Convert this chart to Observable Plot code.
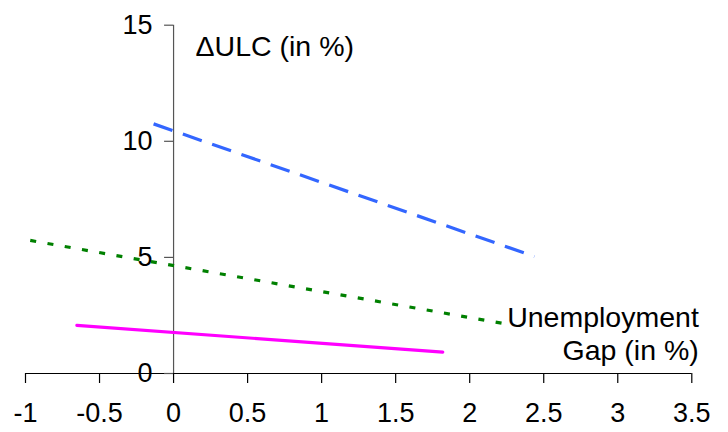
<!DOCTYPE html>
<html>
<head>
<meta charset="utf-8">
<script src="https://cdn.jsdelivr.net/npm/d3@7"></script>
<script src="https://cdn.jsdelivr.net/npm/@observablehq/plot@0.6"></script>
<style>
  html, body { margin: 0; padding: 0; background: #fff; }
</style>
</head>
<body>
<div id="chart"></div>
<script>
// Data
const xTicks = [-1, -0.5, 0, 0.5, 1, 1.5, 2, 2.5, 3, 3.5];
const yTicks = [0, 5, 10, 15];
const blueX = [-0.135, 2.437];
const blueY = [10.75, 5.04];
const greenX = [-0.968, 2.241];
const greenY = [5.73, 2.14];
const magentaX = [-0.653, 1.818];
const magentaY = [2.07, 0.92];
const yLabel = "ΔULC (in %)";
const xLabel = "Unemployment\nGap (in %)";

const toRows = (xs, ys) => xs.map((x, i) => ({x, y: ys[i]}));

const W = 728, H = 432;
const mL = 25, mR = 36.7, mT = 24.7, mB = 59;
const xScale = d3.scaleLinear().domain([-1, 3.5]).range([mL, W - mR]);

const chart = Plot.plot({
  width: W,
  height: H,
  marginLeft: mL,
  marginRight: mR,
  marginTop: mT,
  marginBottom: mB,
  style: {fontFamily: "Liberation Sans, Arial, sans-serif", background: "#fff", color: "#000"},
  x: {domain: [-1, 3.5]},
  y: {domain: [0, 15]},
  marks: [
    Plot.ruleY([0], {stroke: "#000", strokeWidth: 1.2}),
    Plot.ruleX([0], {y1: 0, y2: 15, stroke: "#555", strokeWidth: 1.2}),
    Plot.axisX({ticks: xTicks, tickSize: 10, tickPadding: 19.5, tickFormat: d => String(d),
      fontSize: 27, label: null, stroke: "#000", strokeWidth: 1.2, fill: "#000"}),
    Plot.axisY({ticks: yTicks, tickSize: 9, tickPadding: 12, dx: xScale(0) - mL,
      fontSize: 27, label: null, stroke: "#555", strokeWidth: 1.2, fill: "#000"}),
    Plot.line(toRows(blueX, blueY), {x: "x", y: "y", stroke: "#3366ff", strokeWidth: 3.2, strokeDasharray: "20,11", strokeLinecap: "butt"}),
    Plot.line(toRows(greenX, greenY), {x: "x", y: "y", stroke: "#008000", strokeWidth: 3.2, strokeDasharray: "6,11.5", strokeLinecap: "butt"}),
    Plot.line(toRows(magentaX, magentaY), {x: "x", y: "y", stroke: "#ff00ff", strokeWidth: 3.2}),
    Plot.text([yLabel], {x: () => 0, frameAnchor: "top", textAnchor: "start", lineAnchor: "top",
      dx: 22, dy: 11, fontSize: 28.5, fill: "#000"}),
    Plot.text([xLabel], {frameAnchor: "bottom-right", textAnchor: "end", lineAnchor: "bottom",
      dx: 7, dy: -14, fontSize: 28.5, lineHeight: 1.13, fill: "#000"})
  ]
});
document.getElementById("chart").appendChild(chart);
</script>
</body>
</html>
